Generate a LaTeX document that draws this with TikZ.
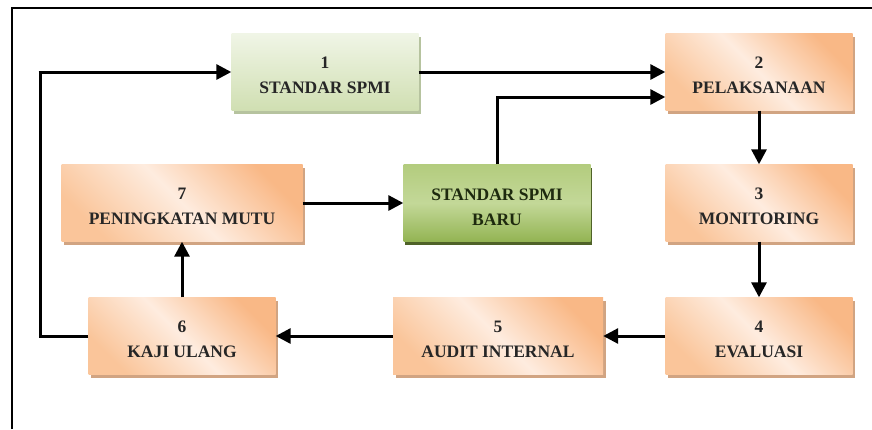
\documentclass[tikz,border=0pt]{standalone}
\usepackage{fontspec}
\setmainfont{Liberation Serif}
\usetikzlibrary{arrows.meta,shadows,calc}

\definecolor{orangeA}{HTML}{FAC59A}
\definecolor{orangeB}{HTML}{FEECDF}
\definecolor{orangeC}{HTML}{F9B886}
\definecolor{orangeShadow}{HTML}{C9946C}
\definecolor{greenA}{HTML}{F0F5E6}
\definecolor{greenB}{HTML}{D0DFB2}
\definecolor{greenShadow}{HTML}{A9B88E}
\definecolor{newA}{HTML}{B3CC7E}
\definecolor{newM}{HTML}{C3D898}
\definecolor{newB}{HTML}{93B453}
\definecolor{newShadow}{HTML}{4F6228}
\definecolor{ink}{HTML}{262626}
\definecolor{greenInk}{HTML}{1E2A0E}

\tikzset{
  x=1pt, y=1pt,
  stagebox/.style={minimum width=187pt, minimum height=77pt, inner sep=0pt},
  stagetext/.style={align=center, font=\fontsize{17.5}{25}\selectfont\bfseries,
    text=ink, yshift=-3pt},
  orangebox/.style={stagebox,
    left color=orangeA, right color=orangeC, middle color=orangeB, shading angle=135,
    drop shadow={shadow xshift=2.5pt, shadow yshift=-3pt, fill=orangeShadow, opacity=.85}},
  greenbox/.style={stagebox, top color=greenA, bottom color=greenB,
    drop shadow={shadow xshift=2.5pt, shadow yshift=-3pt, fill=greenShadow, opacity=.85}},
  newbox/.style={stagebox, top color=newA, bottom color=newB, middle color=newM,
    drop shadow={shadow xshift=1.5pt, shadow yshift=-3.5pt, fill=newShadow, opacity=1}},
  flow/.style={line width=3pt, draw=black, -{Triangle[length=15pt,width=15pt]}},
  frameline/.style={line width=2.6pt, draw=black}
}

\begin{document}
\begin{tikzpicture}
  \useasboundingbox (0,0) rectangle (872,-429);

  % outer frame (top and left edges)
  \draw[frameline] (12,-429) -- (12,-8) -- (872,-8);

  % stages
  \node[greenbox]  (s1) at (325,-72)  {};
  \node[orangebox] (s2) at (759,-72)  {};
  \node[orangebox] (s3) at (759,-203) {};
  \node[orangebox] (s4) at (759,-336) {};
  \node[orangebox, minimum width=210pt] (s5) at (498,-336) {};
  \node[orangebox] (s6) at (182,-336) {};
  \node[orangebox, minimum width=241pt] (s7) at (182,-203) {};
  \node[newbox]    (sn) at (497,-203) {};

  % stage labels
  \node[stagetext] (t1) at (s1) {1\\STANDAR SPMI};
  \node[stagetext] (t2) at (s2) {2\\PELAKSANAAN};
  \node[stagetext] (t3) at (s3) {3\\MONITORING};
  \node[stagetext] (t4) at (s4) {4\\EVALUASI};
  \node[stagetext] (t5) at (s5) {5\\AUDIT INTERNAL};
  \node[stagetext] (t6) at (s6) {6\\KAJI ULANG};
  \node[stagetext] (t7) at (s7) {7\\PENINGKATAN MUTU};
  \node[stagetext, text=greenInk, yshift=-1pt] (tn) at (sn) {STANDAR SPMI\\BARU};

  % return path column
  \coordinate (back) at (40,0);

  % connectors
  \draw[flow] (s1) -- (s2);
  \draw[flow] (sn.north) |- ([yshift=-25pt]s2.west);
  \draw[flow] (s2) -- (s3);
  \draw[flow] (s3) -- (s4);
  \draw[flow] (s4) -- (s5);
  \draw[flow] (s5) -- (s6);
  \draw[flow] (s6) -- (s7);
  \draw[flow] (s7) -- (sn);
  \draw[line width=3pt] (s6.west) -- (s6.west -| back) -- (back |- s1.west);
  \draw[flow] ([xshift=-1.5pt]back |- s1.west) -- (s1.west);
\end{tikzpicture}
\end{document}
